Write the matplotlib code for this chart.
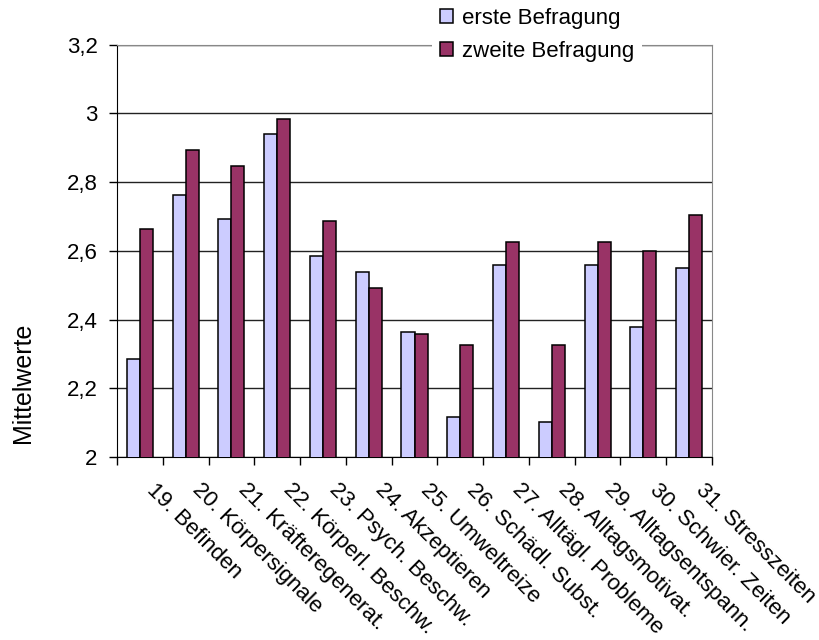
import numpy as np
import matplotlib
matplotlib.use("Agg")
import matplotlib.pyplot as plt
import matplotlib.transforms as mtransforms

plt.rcParams['font.family'] = ['Liberation Sans', 'DejaVu Sans']

categories = [
    "19. Befinden", "20. Körpersignale", "21. Kräfteregenerat.",
    "22. Körperl. Beschw.", "23. Psych. Beschw.", "24. Akzeptieren",
    "25. Umweltreize", "26. Schädl. Subst.", "27. Alltägl. Probleme",
    "28. Alltagsmotivat.", "29. Alltagsentspann.", "30. Schwier. Zeiten",
    "31. Stresszeiten",
]
erste = [2.285, 2.764, 2.692, 2.939, 2.584, 2.538, 2.364,
         2.117, 2.559, 2.103, 2.559, 2.378, 2.551]
zweite = [2.665, 2.893, 2.846, 2.984, 2.686, 2.493, 2.357,
          2.325, 2.625, 2.325, 2.625, 2.600, 2.705]
yticks = [2.0, 2.2, 2.4, 2.6, 2.8, 3.0, 3.2]
ytick_labels = ["2", "2,2", "2,4", "2,6", "2,8", "3", "3,2"]

fig = plt.figure(figsize=(8.19, 6.4), dpi=100)
ax = fig.add_axes([117 / 819, 1 - 457 / 640, 595 / 819, 412.3 / 640])

x = np.arange(len(categories))
w = 0.285
ax.bar(x - w / 2, erste, w, color="#CCCCFF", edgecolor="black", linewidth=1.1,
       label="erste Befragung", zorder=3)
ax.bar(x + w / 2, zweite, w, color="#993366", edgecolor="black", linewidth=1.1,
       label="zweite Befragung", zorder=3)

ax.set_xlim(-0.5, len(categories) - 0.5)
ax.set_ylim(2.0, 3.2)
ax.set_yticks(yticks, ytick_labels, fontsize=16)
ax.yaxis.grid(True, color="#222222", linewidth=1.0, zorder=0)
ax.set_axisbelow(True)
ax.tick_params(axis="y", direction="out", length=6, width=1, pad=8)

# category labels at centres, boundary ticks as minor ticks
ax.set_xticks(x)
ax.set_xticklabels(categories, fontsize=16, rotation=-45, ha="left", va="top",
                   rotation_mode="anchor")
ax.tick_params(axis="x", which="major", length=0, pad=16)
ax.set_xticks(np.arange(len(categories) + 1) - 0.5, minor=True)
ax.tick_params(axis="x", which="minor", direction="out", length=6, width=1)
offset = mtransforms.ScaledTranslation(17 / 100, 0, fig.dpi_scale_trans)
for lab in ax.get_xticklabels():
    lab.set_transform(lab.get_transform() + offset)

for side in ("top", "right"):
    ax.spines[side].set_color("#888888")
for side in ("left", "bottom"):
    ax.spines[side].set_color("black")

ax.set_ylabel("Mittelwerte", fontsize=18, va="center")
ax.yaxis.set_label_coords((23 - 117) / 595, (457 - 383) / 412.3)

leg = ax.legend(loc="upper left", bbox_to_anchor=(432 / 819, 1.0),
                bbox_transform=fig.transFigure, fontsize=16, frameon=True,
                facecolor="white", edgecolor="none", framealpha=1,
                borderaxespad=0, borderpad=0.35, handlelength=0.6,
                handleheight=0.6, handletextpad=0.4, labelspacing=0.55)
leg.get_frame().set_boxstyle("square", pad=0)

fig.savefig("out.png", dpi=100)
